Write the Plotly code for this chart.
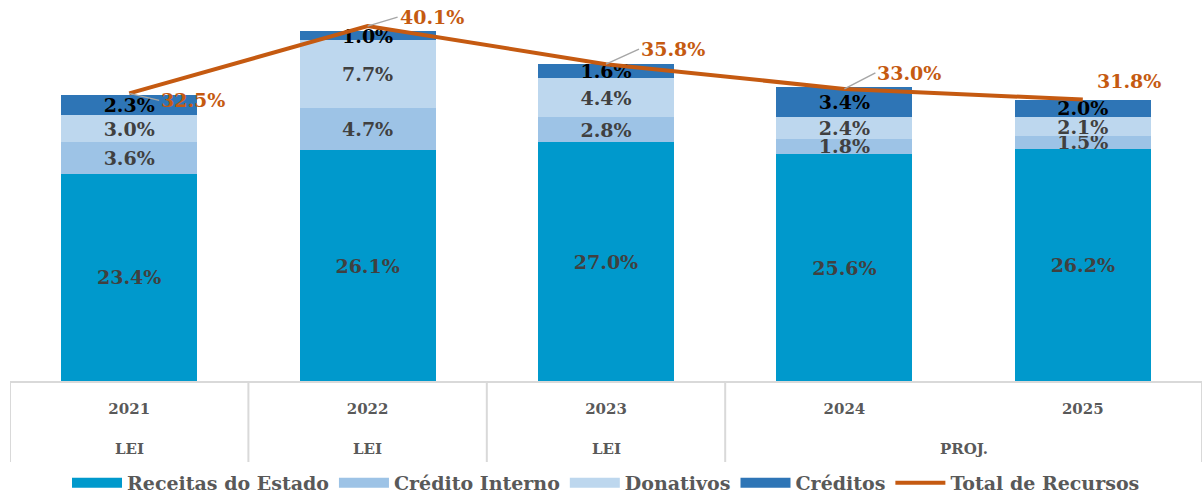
import plotly.graph_objects as go

years = ["2021", "2022", "2023", "2024", "2025"]
group_labels = ["LEI", "LEI", "LEI", "PROJ."]
group_spans = [1, 1, 1, 2]

receitas = [23.4, 26.1, 27.0, 25.6, 26.2]
credito_interno = [3.6, 4.7, 2.8, 1.8, 1.5]
donativos = [3.0, 7.7, 4.4, 2.4, 2.1]
creditos = [2.3, 1.0, 1.6, 3.4, 2.0]
total = [32.5, 40.1, 35.8, 33.0, 31.8]

FONT = "DejaVu Serif"
GRAY = "#595959"
LINE_ORANGE = "#C55A11"

series = [
    ("Receitas do Estado", receitas, "#0099CC", "#404040"),
    ("Crédito Interno", credito_interno, "#9DC3E6", "#404040"),
    ("Donativos", donativos, "#BDD7EE", "#404040"),
    ("Créditos", creditos, "#2E75B6", "#000000"),
]

fig = go.Figure()
for name, vals, color, tcolor in series:
    fig.add_trace(go.Bar(
        name=name, x=years, y=vals, showlegend=False,
        marker=dict(color=color, line=dict(width=0)),
        text=[f"{v:.1f}%" for v in vals],
        textposition="inside", insidetextanchor="middle",
        textangle=0, constraintext="none",
        textfont=dict(family=FONT, size=19, color=tcolor, weight="bold"),
        hoverinfo="skip",
    ))

# legend entries (wide swatches like the reference)
for name, vals, color, tcolor in series:
    fig.add_trace(go.Scatter(
        name=name, x=[None], y=[None], mode="lines",
        line=dict(color=color, width=10), hoverinfo="skip",
    ))

fig.add_trace(go.Scatter(
    name="Total de Recursos", x=years, y=total, mode="lines",
    line=dict(color=LINE_ORANGE, width=4), hoverinfo="skip",
))

# line data labels with leader lines
offsets = [(30, 7), (30, -9), (33, -15), (31, -16), (12, -19)]
for i, v in enumerate(total):
    ax, ay = offsets[i]
    fig.add_annotation(
        x=i, y=v, xref="x", yref="y", text=f"{v:.1f}%",
        showarrow=True, arrowhead=0, arrowwidth=1.5,
        arrowcolor="#A6A6A6" if i < len(total) - 1 else "rgba(0,0,0,0)",
        ax=ax, ay=ay, xanchor="left", yanchor="middle",
        font=dict(family=FONT, size=19, color=LINE_ORANGE, weight="bold"),
    )

plot_h = 381.0
start = 0
boundaries = [-0.5]
for lab, span in zip(group_labels, group_spans):
    center = start + (span - 1) / 2.0
    fig.add_annotation(
        x=center, y=-(449 - 381) / plot_h, xref="x", yref="paper",
        text=lab, showarrow=False, yanchor="middle",
        font=dict(family=FONT, size=15, color=GRAY, weight="bold"),
    )
    start += span
    boundaries.append(start - 0.5)

for b in boundaries:
    fig.add_shape(
        type="line", xref="x", yref="paper", x0=b, x1=b,
        y0=0, y1=-(462 - 381) / plot_h,
        line=dict(color="#D9D9D9", width=2),
    )

fig.update_layout(
    width=1204, height=495,
    margin=dict(l=10, r=2, t=0, b=114, autoexpand=False),
    barmode="stack", bargap=0.43,
    plot_bgcolor="white", paper_bgcolor="white",
    showlegend=True,
    legend=dict(
        orientation="h", x=0.5, xanchor="center",
        y=-(483 - 381) / plot_h, yanchor="middle",
        traceorder="normal", itemwidth=50,
        font=dict(family=FONT, size=19, color=GRAY, weight="bold"),
    ),
    xaxis=dict(
        type="category", showgrid=False, showline=True,
        linecolor="#D9D9D9", linewidth=2, ticks="",
        tickfont=dict(family=FONT, size=15, color=GRAY, weight="bold"),
        ticklabelstandoff=13, range=[-0.5, 4.5],
    ),
    yaxis=dict(
        range=[0, 43.05], showgrid=False, showticklabels=False,
        zeroline=False, showline=False,
    ),
)

fig.write_html("out.html", config={"displayModeBar": False},
               post_script="document.body.style.margin='0';")
